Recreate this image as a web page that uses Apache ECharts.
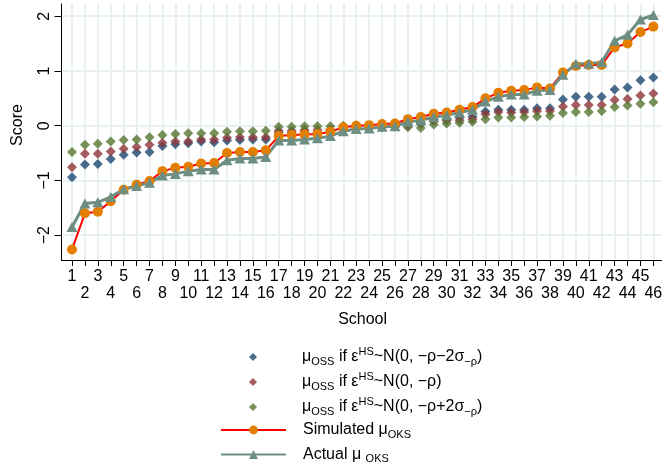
<!DOCTYPE html>
<html>
<head>
<meta charset="utf-8">
<script src="https://cdn.jsdelivr.net/npm/echarts@6/dist/echarts.min.js"></script>
<style>
  html, body { margin: 0; padding: 0; background: #ffffff; }
  #chart { width: 662px; height: 464px; }
</style>
</head>
<body>
<div id="chart"></div>
<script>
// School index on the x axis
const schools = [1, 2, 3, 4, 5, 6, 7, 8, 9, 10, 11, 12, 13, 14, 15, 16, 17, 18, 19, 20, 21, 22, 23,
                 24, 25, 26, 27, 28, 29, 30, 31, 32, 33, 34, 35, 36, 37, 38, 39, 40, 41, 42, 43, 44, 45, 46];

// Tick labels: odd schools on the first row, even schools on the second
const oddLabels = [1, 3, 5, 7, 9, 11, 13, 15, 17, 19, 21, 23, 25, 27, 29, 31, 33, 35, 37, 39, 41, 43, 45];
const evenLabels = [2, 4, 6, 8, 10, 12, 14, 16, 18, 20, 22, 24, 26, 28, 30, 32, 34, 36, 38, 40, 42, 44, 46];

// Tick values on the Score axis
const scoreTicks = [-2, -1, 0, 1, 2];

// mu_OSS under eps^HS ~ N(0, -rho - 2 sigma)
const ossLow = [-0.94, -0.71, -0.70, -0.61, -0.53, -0.49, -0.48, -0.37, -0.34, -0.32, -0.29, -0.30,
                -0.27, -0.26, -0.25, -0.25, -0.13, -0.13, -0.12, -0.12, -0.11, -0.07, -0.055, -0.04,
                -0.03, 0.00, 0.03, 0.06, 0.12, 0.13, 0.15, 0.165, 0.26, 0.29, 0.29, 0.29, 0.32, 0.32,
                0.48, 0.53, 0.53, 0.53, 0.66, 0.70, 0.83, 0.88];

// mu_OSS under eps^HS ~ N(0, -rho)
const ossMid = [-0.76, -0.51, -0.51, -0.47, -0.42, -0.39, -0.35, -0.31, -0.29, -0.29, -0.25, -0.25,
                -0.22, -0.21, -0.21, -0.21, -0.09, -0.09, -0.08, -0.08, -0.07, -0.04, -0.03, -0.02,
                -0.02, -0.01, 0.00, 0.03, 0.08, 0.09, 0.10, 0.12, 0.21, 0.25, 0.24, 0.25, 0.27, 0.27,
                0.35, 0.38, 0.38, 0.38, 0.47, 0.49, 0.55, 0.59];

// mu_OSS under eps^HS ~ N(0, -rho + 2 sigma)
const ossHigh = [-0.48, -0.35, -0.33, -0.29, -0.26, -0.25, -0.21, -0.17, -0.15, -0.14, -0.14, -0.14,
                 -0.11, -0.10, -0.10, -0.09, -0.02, -0.02, -0.01, -0.01, -0.01, 0.00, 0.01, 0.00,
                 -0.01, -0.02, -0.03, -0.04, 0.02, 0.04, 0.055, 0.07, 0.12, 0.15, 0.15, 0.16, 0.17, 0.18,
                 0.23, 0.25, 0.25, 0.27, 0.34, 0.37, 0.40, 0.43];

// Simulated mu_OKS
const simulatedOks = [-2.26, -1.60, -1.57, -1.38, -1.17, -1.08, -1.01, -0.83, -0.77, -0.75, -0.69, -0.68,
                      -0.50, -0.48, -0.48, -0.45, -0.19, -0.17, -0.16, -0.15, -0.11, -0.03, 0.00, 0.01,
                      0.03, 0.04, 0.12, 0.16, 0.22, 0.24, 0.29, 0.34, 0.50, 0.60, 0.64, 0.65, 0.70, 0.68,
                      0.97, 1.09, 1.11, 1.11, 1.43, 1.50, 1.71, 1.81];

// Actual mu_OKS
const actualOks = [-1.85, -1.42, -1.40, -1.30, -1.16, -1.10, -1.04, -0.91, -0.88, -0.83, -0.80, -0.80,
                   -0.63, -0.60, -0.60, -0.57, -0.27, -0.27, -0.25, -0.23, -0.19, -0.10, -0.06, -0.05,
                   -0.02, -0.01, 0.07, 0.10, 0.16, 0.19, 0.24, 0.29, 0.44, 0.53, 0.57, 0.57, 0.64, 0.65,
                   0.93, 1.13, 1.13, 1.16, 1.55, 1.66, 1.94, 2.02];

const FONT = '"Liberation Sans", Arial, Helvetica, sans-serif';
const GRID_COLOR = '#e9f0f2';
const X_MIN = 0.187;
const X_MAX = 46.8;

const NAME_LOW = 'μOSS if εHS~N(0, −ρ−2σ−ρ)';
const NAME_MID = 'μOSS if εHS~N(0, −ρ)';
const NAME_HIGH = 'μOSS if εHS~N(0, −ρ+2σ−ρ)';
const NAME_SIM = 'Simulated μOKS';
const NAME_ACT = 'Actual μ OKS';

// Legend labels with sub- and superscripts
const legendText = {};
legendText[NAME_LOW] = '{t|μ}{s|OSS}{t| if ε}{p|HS}{t|~N(0, −ρ−2σ}{s|−ρ}{t|)}';
legendText[NAME_MID] = '{t|μ}{s|OSS}{t| if ε}{p|HS}{t|~N(0, −ρ)}';
legendText[NAME_HIGH] = '{t|μ}{s|OSS}{t| if ε}{p|HS}{t|~N(0, −ρ+2σ}{s|−ρ}{t|)}';
legendText[NAME_SIM] = '{t|Simulated μ}{s|OKS}';
legendText[NAME_ACT] = '{t|Actual μ }{s|OKS}';

function richStyles() {
  return {
    t: { fontSize: 16, fontFamily: FONT, color: '#000' },
    s: { fontSize: 11, fontFamily: FONT, color: '#000', padding: [9, 0, 0, 0] },
    p: { fontSize: 11, fontFamily: FONT, color: '#000', padding: [0, 0, 11, 0] }
  };
}

function pairs(values) {
  return schools.map((s, i) => [s, values[i]]);
}

function minusFmt(v) {
  return v < 0 ? '\u2212' + Math.abs(v) : String(v);
}

const xLabelStyle = {
  showMinLabel: true,
  showMaxLabel: true,
  fontSize: 16,
  fontFamily: FONT,
  color: '#000'
};

const chart = echarts.init(document.getElementById('chart'), null, { renderer: 'canvas' });

chart.setOption({
  backgroundColor: '#ffffff',
  animation: false,
  textStyle: { fontFamily: FONT },
  grid: { left: 61.5, right: -1.7, top: 4, bottom: 204, outerBoundsMode: 'none', containLabel: false },
  legend: [
    {
      // diamond markers: compact square key, centred under the line keys
      orient: 'vertical',
      left: 244,
      top: 341,
      height: 90,
      itemWidth: 8,
      itemHeight: 8,
      itemGap: 4,
      selectedMode: false,
      data: [NAME_LOW, NAME_MID, NAME_HIGH],
      formatter: name => legendText[name],
      textStyle: { fontSize: 16, fontFamily: FONT, color: '#000', padding: [0, 0, 0, 40], rich: richStyles() }
    },
    {
      // connected series: line key with marker in the middle
      orient: 'vertical',
      left: 215,
      top: 417,
      height: 60,
      itemWidth: 65,
      itemHeight: 11,
      itemGap: 6.5,
      selectedMode: false,
      data: [NAME_SIM, NAME_ACT],
      formatter: name => legendText[name],
      textStyle: { fontSize: 16, fontFamily: FONT, color: '#000', padding: [0, 0, 0, 12], rich: richStyles() }
    }
  ],
  xAxis: [
    {
      // main axis: line, ticks, grid and odd-numbered labels
      type: 'value',
      min: X_MIN,
      max: X_MAX,
      name: 'School',
      nameLocation: 'middle',
      nameGap: 52,
      nameTextStyle: { fontSize: 16, fontFamily: FONT, color: '#000' },
      axisLine: { show: true, onZero: false, lineStyle: { color: '#000', width: 1 } },
      axisTick: { show: true, length: 6, customValues: schools, lineStyle: { color: '#000', width: 1 } },
      axisLabel: Object.assign({ customValues: oddLabels, margin: 9 }, xLabelStyle),
      splitLine: { show: true, lineStyle: { color: GRID_COLOR, width: 2 } }
    },
    {
      // second label row for even-numbered schools
      type: 'value',
      position: 'bottom',
      min: X_MIN,
      max: X_MAX,
      axisLine: { show: false, onZero: false },
      axisTick: { show: false },
      splitLine: { show: false },
      axisLabel: Object.assign({ customValues: evenLabels, margin: 26 }, xLabelStyle)
    }
  ],
  yAxis: {
    type: 'value',
    min: -2.453,
    max: 2.223,
    name: 'Score',
    nameLocation: 'middle',
    nameGap: 36,
    nameRotate: 90,
    nameTextStyle: { fontSize: 16, fontFamily: FONT, color: '#000', padding: [0, 0, 0, 14] },
    axisLine: { show: true, onZero: false, lineStyle: { color: '#000', width: 1 } },
    axisTick: { show: true, length: 7, customValues: scoreTicks, lineStyle: { color: '#000', width: 1 } },
    axisLabel: {
      customValues: scoreTicks,
      showMinLabel: true,
      showMaxLabel: true,
      rotate: 90,
      margin: 9,
      fontSize: 16,
      fontFamily: FONT,
      color: '#000',
      formatter: minusFmt
    },
    splitLine: { show: true, lineStyle: { color: GRID_COLOR, width: 2 } }
  },
  series: [
    {
      type: 'scatter', name: NAME_LOW, data: pairs(ossLow),
      symbol: 'diamond', symbolSize: 10,
      itemStyle: { color: '#1a476f' }, emphasis: { disabled: true }
    },
    {
      type: 'scatter', name: NAME_MID, data: pairs(ossMid),
      symbol: 'diamond', symbolSize: 10,
      itemStyle: { color: '#90353b' }, emphasis: { disabled: true }
    },
    {
      type: 'scatter', name: NAME_HIGH, data: pairs(ossHigh),
      symbol: 'diamond', symbolSize: 10,
      itemStyle: { color: '#55752f' }, emphasis: { disabled: true }
    },
    {
      type: 'line', name: NAME_SIM, data: pairs(simulatedOks),
      symbol: 'circle', symbolSize: 10, showSymbol: true,
      lineStyle: { color: '#ff0000', width: 2 },
      itemStyle: { color: '#e37e00' }, emphasis: { disabled: true }
    },
    {
      type: 'line', name: NAME_ACT, data: pairs(actualOks),
      symbol: 'triangle', symbolSize: [11, 10], showSymbol: true,
      lineStyle: { color: '#6e8e84', width: 3 },
      itemStyle: { color: '#6e8e84' }, emphasis: { disabled: true }
    }
  ]
});
</script>
</body>
</html>
